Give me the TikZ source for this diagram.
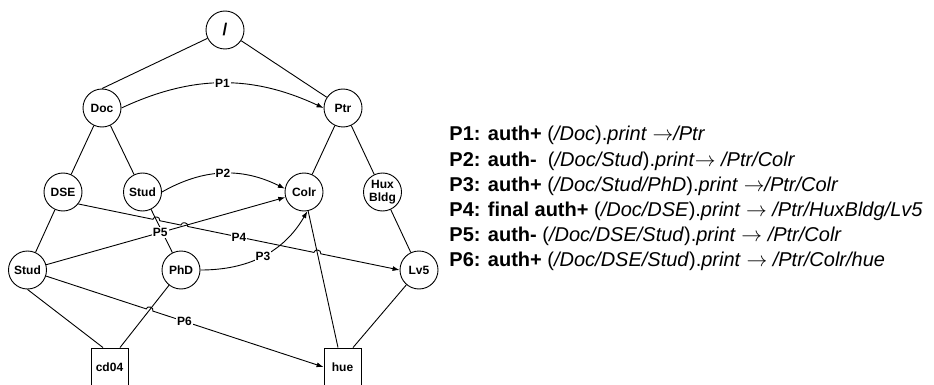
\documentclass[tikz,border=0pt]{standalone}
\usepackage{fontspec}
\setmainfont{Liberation Sans}
\usetikzlibrary{arrows.meta,calc,intersections}
\newcommand{\maps}{$\rightarrow$}
\begin{document}
\begin{tikzpicture}[x=1pt,y=1pt,line width=0.9pt,
  vtx/.style={circle,draw,minimum size=38pt,inner sep=0pt,align=center,
    font=\fontsize{12}{12.5}\selectfont\bfseries},
  leaf/.style={rectangle,draw,minimum width=37pt,minimum height=38pt,inner sep=0pt,
    font=\fontsize{12}{12.5}\selectfont\bfseries},
  perm/.style={draw,-{Latex[length=7pt,width=5pt]}},
  plabel/.style={fill=white,inner sep=1pt,font=\fontsize{12}{12.5}\selectfont\bfseries},
  hop/.style={bend left=90,looseness=1.5},
  rule/.style={anchor=base west,inner sep=0pt,font=\fontsize{20}{24}\selectfont}
]
\useasboundingbox (0,0) rectangle (934,-385);

% name tree
\node[vtx,font=\fontsize{17}{17}\selectfont\bfseries] (root) at (225,-30) {/};
\node[vtx] (Doc)   at (102,-108) {Doc};
\node[vtx] (Ptr)   at (343,-108) {Ptr};
\node[vtx] (DSE)   at (63,-192)  {DSE};
\node[vtx] (StudA) at (142.5,-192) {Stud};
\node[vtx] (Colr)  at (304,-192) {Colr};
\node[vtx] (Hux)   at (382.5,-192) {Hux\\Bldg};
\node[vtx] (StudB) at (27.5,-270) {Stud};
\node[vtx] (PhD)   at (181,-270) {PhD};
\node[vtx] (Lv5)   at (419,-270) {Lv5};
\node[leaf] (cd04) at (109.5,-367) {cd04};
\node[leaf] (hue)  at (342.5,-367) {hue};

% hierarchy edges
\draw (root) -- (Doc.north);
\draw (root) -- (Ptr);
\draw (Doc) -- (DSE);
\draw (Doc) -- (StudA);
\draw (Ptr) -- (Colr);
\draw (Ptr) -- (Hux);
\draw (DSE) -- (StudB);
\draw[name path=studphd] (StudA) -- (PhD);
\draw (Hux) -- (Lv5);
\draw (StudB.south) -- ([xshift=-6.5pt]cd04.north);
\draw[name path=phdcd] (PhD) -- ([xshift=10.5pt]cd04.north);
\draw[name path=colrhue] (Colr) -- ([xshift=-4.5pt]hue.north);
\draw (Lv5) -- ([xshift=10.5pt]hue.north);

% permissions
\draw[perm] (Doc.east) to[bend left=25] node[plabel] (lP1) {P1} (Ptr.west);
\draw[perm] (StudA.east) to[bend left=28] node[plabel] (lP2) {P2} (Colr.170);
\draw[perm] (PhD.east) to[out=0,in=240] node[plabel] (lP3) {P3} (Colr.-80);
\draw[perm,name path=p5path] (StudB) -- (Colr);

% P4 hops over three lines
\path[name path=p4path] (DSE.-38) -- (Lv5.west);
\path[name intersections={of=p4path and studphd,by=xa}];
\path[name intersections={of=p4path and p5path,by=xb}];
\path[name intersections={of=p4path and colrhue,by=xc}];
\draw[perm] (DSE.-38) -- ($(xa)!3.5pt!(DSE.-38)$) to[hop] ($(xa)!3.5pt!(Lv5.west)$)
  -- ($(xb)!3.5pt!(DSE.-38)$) to[hop] ($(xb)!3.5pt!(Lv5.west)$)
  -- ($(xc)!3.5pt!(DSE.-38)$) to[hop] ($(xc)!3.5pt!(Lv5.west)$) -- (Lv5.west);

% P6 hops over the PhD--cd04 line
\path[name path=p6path] (StudB) -- (hue.west);
\path[name intersections={of=p6path and phdcd,by=xd}];
\draw[perm] (StudB) -- ($(xd)!3.5pt!(StudB)$) to[hop] ($(xd)!3.5pt!(hue.west)$) -- (hue.west);

\node[plabel] (lP4) at ($(DSE.-38)!0.5!(Lv5.west)$) {P4};
\node[plabel] (lP5) at ($(StudB)!0.48!(Colr)$) {P5};
\node[plabel] (lP6) at ($(StudB)!0.53!(hue.west)$) {P6};

% permission list
\node[rule] (t1) at (449,-141) {\textbf{P1: auth+} (\textit{/Doc}).\textit{print} \maps\textit{/Ptr}};
\node[rule] (t2) at (449,-166) {\textbf{P2: auth-}\ \ (\textit{/Doc/Stud}).\textit{print}\maps\ \textit{/Ptr/Colr}};
\node[rule] (t3) at (449,-191) {\textbf{P3: auth+} (\textit{/Doc/Stud/PhD}).\textit{print} \maps\textit{/Ptr/Colr}};
\node[rule] (t4) at (449,-216) {\textbf{P4: final auth+} (\textit{/Doc/DSE}).\textit{print} \maps\ \textit{/Ptr/HuxBldg/Lv5}};
\node[rule] (t5) at (449,-241) {\textbf{P5: auth-} (\textit{/Doc/DSE/Stud}).\textit{print} \maps\ \textit{/Ptr/Colr}};
\node[rule] (t6) at (449,-266) {\textbf{P6: auth+} (\textit{/Doc/DSE/Stud}).\textit{print} \maps\ \textit{/Ptr/Colr/hue}};
\end{tikzpicture}
\end{document}
